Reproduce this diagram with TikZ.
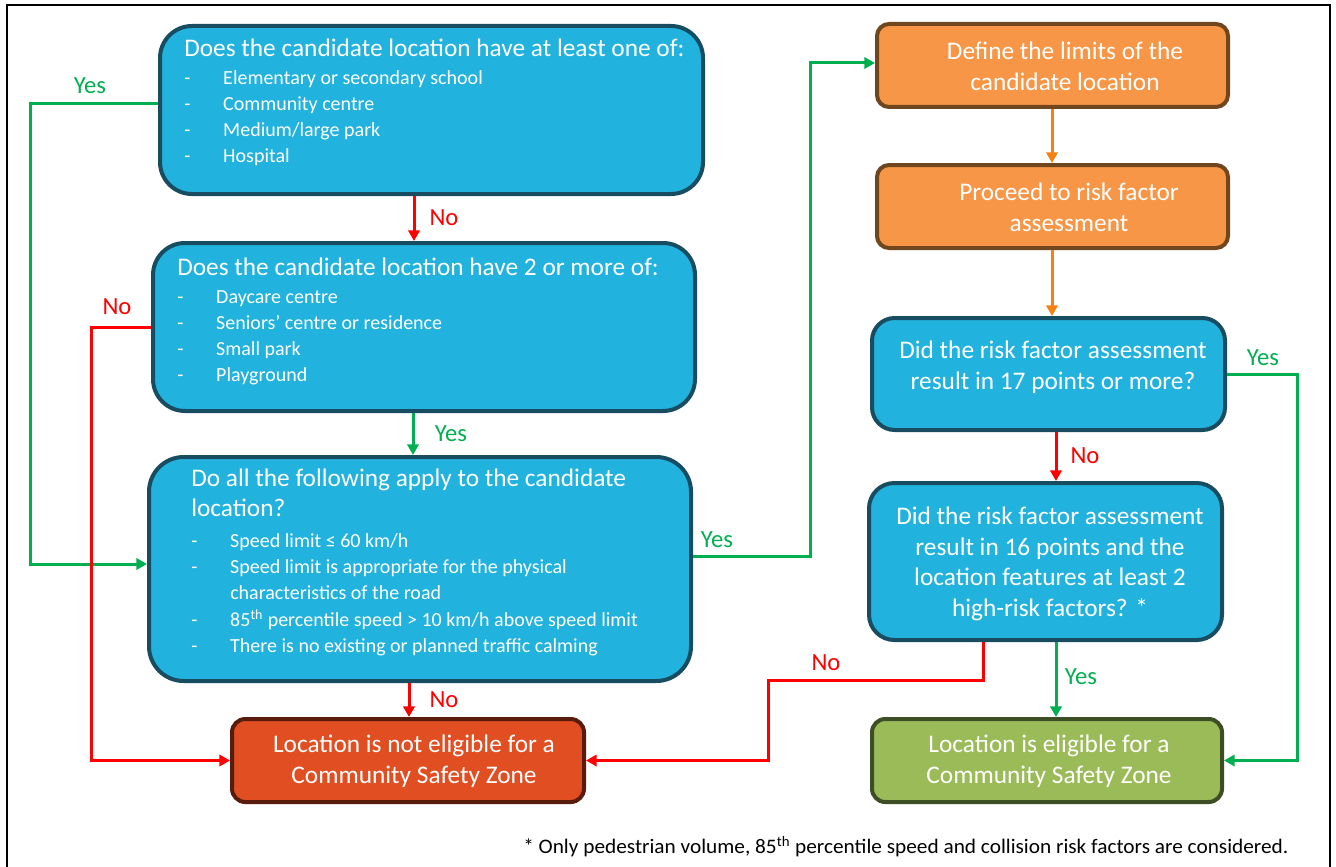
\documentclass[tikz,border=0pt]{standalone}
\usepackage{fontspec}
\usepackage{graphicx}
\setmainfont{Carlito}
\usetikzlibrary{arrows.meta,fit}
\definecolor{bluefill}{RGB}{33,178,222}
\definecolor{blueline}{RGB}{24,76,96}
\definecolor{orangefill}{RGB}{247,150,70}
\definecolor{orangeline}{RGB}{112,70,30}
\definecolor{redfill}{RGB}{224,78,34}
\definecolor{redline}{RGB}{88,28,12}
\definecolor{greenfill}{RGB}{155,187,89}
\definecolor{greenline}{RGB}{62,78,36}
\definecolor{arrgreen}{RGB}{0,176,80}
\definecolor{arrred}{RGB}{255,0,0}
\definecolor{arrorange}{RGB}{245,128,20}
\newcommand{\bl}[1]{\makebox[29.25pt][l]{-}#1}
\begin{document}
\begin{tikzpicture}[x=0.75pt,y=-0.75pt,
  flowbox/.style={draw, line width=3pt, rounded corners=#1, inner sep=0pt},
  bluebox/.style={flowbox=#1, fill=bluefill, draw=blueline},
  orangebox/.style={flowbox=#1, fill=orangefill, draw=orangeline},
  redbox/.style={flowbox=#1, fill=redfill, draw=redline},
  greenbox/.style={flowbox=#1, fill=greenfill, draw=greenline},
  txt/.style={text=white, inner sep=0pt},
  ctxt/.style={txt, align=center, font=\fontsize{19}{23}\selectfont},
  conn/.style={line width=2.25pt, -{Triangle[length=8pt,width=8.5pt]}},
  garrow/.style={conn, draw=arrgreen},
  rarrow/.style={conn, draw=arrred},
  oarrow/.style={conn, draw=arrorange},
  lab/.style={inner sep=0pt, font=\fontsize{18.5}{20}\selectfont},
  glab/.style={lab, text=arrgreen},
  rlab/.style={lab, text=arrred}]
\useasboundingbox (0,0) rectangle (1336,867);
\fill[white] (0,0) rectangle (1336,867);
\draw[line width=1.6pt] (7,5) rectangle (1330,900);

% boxes
\node[bluebox=24pt, fit={(160,26) (703,194)}] (A) {};
\node[bluebox=24pt, fit={(153,243) (695,411)}] (B) {};
\node[bluebox=26pt, fit={(149,457) (691,681)}] (C) {};
\node[redbox=10pt, fit={(232,719) (584,802)}] (D) {};
\node[orangebox=9pt, fit={(877,24) (1228,107)}] (E) {};
\node[orangebox=9pt, fit={(877,165) (1228,248)}] (F) {};
\node[bluebox=17pt, fit={(872,318) (1225,430)}] (G) {};
\node[bluebox=19pt, fit={(869,483) (1222,640)}] (H) {};
\node[greenbox=10pt, fit={(872,719) (1222,802)}] (I) {};

% box texts
\node[txt, anchor=base west] (At) at (184,57) {\parbox[t]{500pt}{\raggedright
{\fontsize{19}{22.5}\selectfont Does the candidate location have at least one of:\par}
\vspace{1.5pt}\fontsize{15}{19.5}\selectfont
\bl{Elementary or secondary school}\par
\bl{Community centre}\par
\bl{Medium/large park}\par
\bl{Hospital}\par}};
\node[txt, anchor=base west] (Bt) at (177,275) {\parbox[t]{500pt}{\raggedright
{\fontsize{19}{22.5}\selectfont Does the candidate location have 2 or more of:\par}
\vspace{1.5pt}\fontsize{15}{19.5}\selectfont
\bl{Daycare centre}\par
\bl{Seniors’ centre or residence}\par
\bl{Small park}\par
\bl{Playground}\par}};
\node[txt, anchor=base west] (Ct) at (191,486) {\parbox[t]{500pt}{\raggedright
{\fontsize{19}{22.5}\selectfont Do all the following apply to the candidate\\ location?\par}
\vspace{3.5pt}\fontsize{15}{19.8}\selectfont
\bl{Speed limit ≤ 60 km/h}\par
\bl{Speed limit is appropriate for the physical}\par
\hspace*{29.25pt}characteristics of the road\par
\bl{85\textsuperscript{th} percentile speed > 10 km/h above speed limit}\par
\bl{There is no existing or planned traffic calming}\par}};
\node[ctxt] (Dt) at (414,761) {Location is not eligible for a\\Community Safety Zone};
\node[ctxt] (Et) at (1065,66) {Define the limits of the\\candidate location};
\node[ctxt] (Ft) at (1069,207) {Proceed to risk factor\\assessment};
\node[ctxt] (Gt) at (1053,367) {Did the risk factor assessment\\result in 17 points or more?};
\node[ctxt] (Ht) at (1050,564) {Did the risk factor assessment\\result in 16 points and the\\location features at least 2\\high-risk factors? *};
\node[ctxt] (It) at (1049,761) {Location is eligible for a\\Community Safety Zone};

% helper coordinates
\coordinate (xab) at (414,0);
\coordinate (xbc) at (413,0);
\coordinate (xcd) at (409,0);
\coordinate (xef) at (1052,0);
\coordinate (xgh) at (1056,0);
\coordinate (xhn) at (983,0);
\coordinate (ya) at (0,104);
\coordinate (yc) at (0,564);
\coordinate (ycr) at (0,556);
\coordinate (ye) at (0,63);

% connectors
\draw[rarrow] (A.south -| xab) -- (B.north -| xab);
\draw[garrow] (B.south -| xbc) -- (C.north -| xbc);
\draw[rarrow] (C.south -| xcd) -- (D.north -| xcd);
\draw[garrow] (A.west |- ya) -- ++(-128,0) |- (C.west |- yc);
\draw[rarrow] (B.west) -- ++(-60,0) |- (D.west);
\draw[garrow] (C.east |- ycr) -- ++(117,0) |- (E.west |- ye);
\draw[oarrow] (E.south -| xef) -- (F.north -| xef);
\draw[oarrow] (F.south -| xef) -- (G.north -| xef);
\draw[rarrow] (G.south -| xgh) -- (H.north -| xgh);
\draw[garrow] (G.east) -- ++(70,0) |- (I.east);
\draw[garrow] (H.south -| xgh) -- (I.north -| xgh);
\draw[rarrow] (H.south -| xhn) -- ++(0,38) -- ++(-215,0) |- (D.east);

% labels
\node[glab] (l1) at (90,86) {Yes};
\node[rlab] (l2) at (444,218) {No};
\node[rlab] (l3) at (117,307) {No};
\node[glab] (l4) at (451,434) {Yes};
\node[glab] (l5) at (717,540) {Yes};
\node[rlab] (l6) at (444,700) {No};
\node[glab] (l7) at (1263,358) {Yes};
\node[rlab] (l8) at (1085,456) {No};
\node[glab] (l9) at (1081,677) {Yes};
\node[rlab] (l10) at (826,663) {No};

% footnote
\node[inner sep=0pt, anchor=base west] (note) at (523,853) {\resizebox{573.75pt}{\height}{\fontsize{15.5}{17}\selectfont * Only pedestrian volume, 85\textsuperscript{th} percentile speed and collision risk factors are considered.}};
\end{tikzpicture}
\end{document}
